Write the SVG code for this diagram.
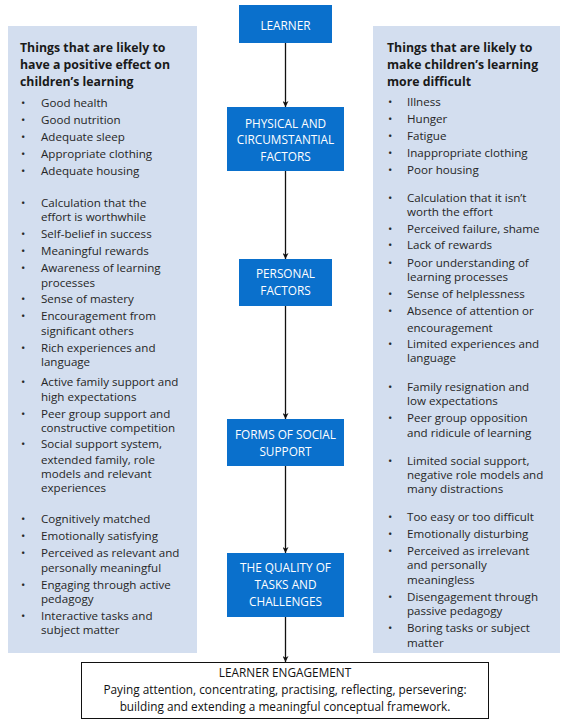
<svg xmlns="http://www.w3.org/2000/svg" width="570" height="722" viewBox="0 0 570 722">
<style>
.panel{fill:#d3deef}
.node rect{fill:#0a70cc}
.nt{font-family:"Open Sans","Noto Sans",sans-serif;font-size:11.8px;fill:#fff;text-anchor:middle}
.hd{font-family:"Open Sans","Noto Sans",sans-serif;font-size:12.3px;font-weight:bold;fill:#1a1a1a}
.it{font-family:"Open Sans","Noto Sans",sans-serif;font-size:11.6px;fill:#262626}
.bu{font-family:"Open Sans","Noto Sans",sans-serif;font-size:11.5px;fill:#262626}
.et{font-family:"Open Sans","Noto Sans",sans-serif;font-size:11.8px;fill:#111;text-anchor:middle}
.conn line{stroke:#111;stroke-width:1.3;marker-end:url(#ah)}
</style>
<defs>
<marker id="ah" viewBox="0 0 10 10" refX="10" refY="5" markerWidth="6" markerHeight="6" orient="auto" markerUnits="userSpaceOnUse">
<path d="M0,0 L10,5 L0,10 L3,5 Z" fill="#111"/>
</marker>
</defs>
<rect width="570" height="722" fill="#fff"/>

<g id="panel-positive">
<rect class="panel" x="8" y="26" width="189" height="627"/>
<text class="hd" x="20" y="52">Things that are likely to</text>
<text class="hd" x="20" y="69">have a positive effect on</text>
<text class="hd" x="20" y="86">children’s learning</text>
<g class="bu">
<text x="21" y="107">•</text><text x="21" y="124">•</text><text x="21" y="141">•</text><text x="21" y="158">•</text><text x="21" y="175">•</text>
<text x="21" y="207">•</text><text x="21" y="238">•</text><text x="21" y="255">•</text><text x="21" y="272">•</text><text x="21" y="303">•</text><text x="21" y="320">•</text><text x="21" y="352">•</text><text x="21" y="386">•</text><text x="21" y="418">•</text><text x="21" y="448">•</text>
<text x="21" y="523">•</text><text x="21" y="540">•</text><text x="21" y="557">•</text><text x="21" y="589">•</text><text x="21" y="620">•</text>
</g>
<g class="it">
<text x="41" y="107">Good health</text>
<text x="41" y="124">Good nutrition</text>
<text x="41" y="141">Adequate sleep</text>
<text x="41" y="158">Appropriate clothing</text>
<text x="41" y="175">Adequate housing</text>
<text x="41" y="207">Calculation that the</text>
<text x="41" y="221">effort is worthwhile</text>
<text x="41" y="238">Self-belief in success</text>
<text x="41" y="255">Meaningful rewards</text>
<text x="41" y="272">Awareness of learning</text>
<text x="41" y="287">processes</text>
<text x="41" y="303">Sense of mastery</text>
<text x="41" y="320">Encouragement from</text>
<text x="41" y="335">significant others</text>
<text x="41" y="352">Rich experiences and</text>
<text x="41" y="366">language</text>
<text x="41" y="386">Active family support and</text>
<text x="41" y="401">high expectations</text>
<text x="41" y="418">Peer group support and</text>
<text x="41" y="432">constructive competition</text>
<text x="41" y="448">Social support system,</text>
<text x="41" y="464">extended family, role</text>
<text x="41" y="478">models  and relevant</text>
<text x="41" y="492">experiences</text>
<text x="41" y="523">Cognitively matched</text>
<text x="41" y="540">Emotionally satisfying</text>
<text x="41" y="557">Perceived as relevant and</text>
<text x="41" y="572">personally meaningful</text>
<text x="41" y="589">Engaging through active</text>
<text x="41" y="603">pedagogy</text>
<text x="41" y="620">Interactive tasks and</text>
<text x="41" y="634">subject matter</text>
</g>
</g>

<g id="panel-negative">
<rect class="panel" x="373" y="26" width="187" height="627"/>
<text class="hd" x="387" y="52">Things that are likely to</text>
<text class="hd" x="387" y="69">make children’s learning</text>
<text class="hd" x="387" y="86">more difficult</text>
<g class="bu">
<text x="388" y="106">•</text><text x="388" y="123">•</text><text x="388" y="140">•</text><text x="388" y="157">•</text><text x="388" y="174">•</text>
<text x="388" y="202">•</text><text x="388" y="233">•</text><text x="388" y="249">•</text><text x="388" y="267">•</text><text x="388" y="298">•</text><text x="388" y="315">•</text><text x="388" y="348">•</text>
<text x="388" y="391">•</text><text x="388" y="422">•</text><text x="388" y="465">•</text>
<text x="388" y="521">•</text><text x="388" y="538">•</text><text x="388" y="555">•</text><text x="388" y="601">•</text><text x="388" y="632">•</text>
</g>
<g class="it">
<text x="407" y="106">Illness</text>
<text x="407" y="123">Hunger</text>
<text x="407" y="140">Fatigue</text>
<text x="407" y="157">Inappropriate clothing</text>
<text x="407" y="174">Poor housing</text>
<text x="407" y="202">Calculation that it isn’t</text>
<text x="407" y="216">worth the effort</text>
<text x="407" y="233">Perceived failure, shame</text>
<text x="407" y="249">Lack of rewards</text>
<text x="407" y="267">Poor understanding of</text>
<text x="407" y="281">learning processes</text>
<text x="407" y="298">Sense of helplessness</text>
<text x="407" y="315">Absence of attention or</text>
<text x="407" y="332">encouragement</text>
<text x="407" y="348">Limited experiences and</text>
<text x="407" y="362">language</text>
<text x="407" y="391">Family resignation and</text>
<text x="407" y="405">low expectations</text>
<text x="407" y="422">Peer group opposition</text>
<text x="407" y="437">and ridicule of learning</text>
<text x="407" y="465">Limited social support,</text>
<text x="407" y="479">negative role models and</text>
<text x="407" y="493">many distractions</text>
<text x="407" y="521">Too easy or too difficult</text>
<text x="407" y="538">Emotionally disturbing</text>
<text x="407" y="555">Perceived as irrelevant</text>
<text x="407" y="569">and personally</text>
<text x="407" y="584">meaningless</text>
<text x="407" y="601">Disengagement through</text>
<text x="407" y="615">passive pedagogy</text>
<text x="407" y="632">Boring tasks or subject</text>
<text x="407" y="647">matter</text>
</g>
</g>

<g id="connectors" class="conn">
<line x1="285.5" y1="43" x2="285.5" y2="107"/>
<line x1="285.5" y1="171" x2="285.5" y2="259"/>
<line x1="285.5" y1="306" x2="285.5" y2="419"/>
<line x1="285.5" y1="466" x2="285.5" y2="553"/>
<line x1="285.5" y1="617" x2="285.5" y2="662"/>
</g>

<g id="node-learner" class="node">
<rect x="239" y="5" width="93" height="38"/>
<text class="nt" x="285.5" y="30">LEARNER</text>
</g>
<g id="node-physical" class="node">
<rect x="227" y="107" width="117" height="64"/>
<text class="nt" x="285.5" y="128">PHYSICAL AND</text>
<text class="nt" x="285.5" y="144">CIRCUMSTANTIAL</text>
<text class="nt" x="285.5" y="161">FACTORS</text>
</g>
<g id="node-personal" class="node">
<rect x="239" y="259" width="93" height="47"/>
<text class="nt" x="285.5" y="278">PERSONAL</text>
<text class="nt" x="285.5" y="295">FACTORS</text>
</g>
<g id="node-social" class="node">
<rect x="227" y="419" width="117" height="47"/>
<text class="nt" x="285.5" y="439">FORMS OF SOCIAL</text>
<text class="nt" x="285.5" y="456">SUPPORT</text>
</g>
<g id="node-quality" class="node">
<rect x="227" y="553" width="117" height="64"/>
<text class="nt" x="285.5" y="572">THE QUALITY OF</text>
<text class="nt" x="285.5" y="589">TASKS AND</text>
<text class="nt" x="285.5" y="606">CHALLENGES</text>
</g>
<g id="node-engagement">
<rect x="81.5" y="662.5" width="407" height="56" fill="#fff" stroke="#111" stroke-width="1"/>
<text class="et" x="285" y="677">LEARNER ENGAGEMENT</text>
<text class="et" x="285" y="694">Paying attention, concentrating, practising, reflecting, persevering:</text>
<text class="et" x="285" y="711">building and extending a meaningful conceptual framework.</text>
</g>
</svg>
